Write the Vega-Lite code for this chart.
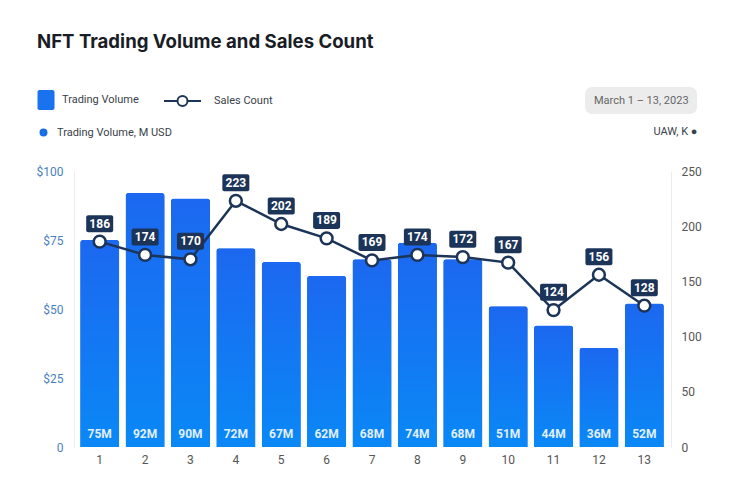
{
  "$schema": "https://vega.github.io/schema/vega-lite/v6.json",
  "description": "NFT trading volume (bars) and sales count (line), March 1-13, 2023.",
  "autosize": "none",
  "width": 590,
  "height": 276,
  "padding": {"left": 77, "top": 171, "right": 73, "bottom": 53},
  "background": "white",
  "title": {
    "text": "NFT Trading Volume and Sales Count",
    "anchor": "start",
    "frame": "group",
    "dx": -40,
    "dy": -26,
    "font": "Inter",
    "fontSize": 18.6,
    "fontWeight": 700,
    "color": "#1a1d26"
  },
  "config": {
    "view": {"stroke": null},
    "font": "Roboto",
    "legend": {"padding": 0, "labelFont": "Roboto", "labelFontSize": 11, "labelColor": "#3a3f4a"}
  },
  "data": {
    "values": [
      {"day": 1, "vol": 75, "label": "75M", "count": 186},
      {"day": 2, "vol": 92, "label": "92M", "count": 174},
      {"day": 3, "vol": 90, "label": "90M", "count": 170},
      {"day": 4, "vol": 72, "label": "72M", "count": 223},
      {"day": 5, "vol": 67, "label": "67M", "count": 202},
      {"day": 6, "vol": 62, "label": "62M", "count": 189},
      {"day": 7, "vol": 68, "label": "68M", "count": 169},
      {"day": 8, "vol": 74, "label": "74M", "count": 174},
      {"day": 9, "vol": 68, "label": "68M", "count": 172},
      {"day": 10, "vol": 51, "label": "51M", "count": 167},
      {"day": 11, "vol": 44, "label": "44M", "count": 124},
      {"day": 12, "vol": 36, "label": "36M", "count": 156},
      {"day": 13, "vol": 52, "label": "52M", "count": 128}
    ]
  },
  "encoding": {
    "x": {
      "field": "day",
      "type": "ordinal",
      "scale": {"paddingInner": 0.14, "paddingOuter": 0.07},
      "axis": {
        "title": null,
        "labelAngle": 0,
        "ticks": false,
        "domain": false,
        "labelColor": "#555555",
        "labelFontSize": 12,
        "labelPadding": 7
      }
    }
  },
  "layer": [
    {
      "encoding": {
        "y": {
          "field": "vol",
          "type": "quantitative",
          "scale": {"domain": [0, 100]},
          "axis": {
            "title": null,
            "values": [0, 25, 50, 75, 100],
            "labelExpr": "datum.value == 0 ? '0' : '$' + datum.value",
            "labelColor": "#4a7fc0",
            "labelFontSize": 12,
            "ticks": false,
            "grid": false,
            "domainColor": "#ececec",
            "offset": 3,
            "labelPadding": 11
          }
        }
      },
      "layer": [
        {
          "mark": {"type": "bar", "cornerRadiusTopLeft": 3, "cornerRadiusTopRight": 3},
          "encoding": {
            "fill": {
              "datum": "Trading Volume",
              "type": "nominal",
              "scale": {"range": ["#1b72ee"]},
              "legend": {
                "orient": "none",
                "legendX": -41,
                "legendY": -81,
                "title": null,
                "symbolType": "M-0.65,-1H0.65A0.2,0.2 0 0 1 0.85,-0.8V0.8A0.2,0.2 0 0 1 0.65,1H-0.65A0.2,0.2 0 0 1 -0.85,0.8V-0.8A0.2,0.2 0 0 1 -0.65,-1Z",
                "symbolSize": 400,
                "symbolStrokeWidth": 0,
                "labelOffset": 6
              }
            }
          }
        },
        {
          "mark": {
            "type": "bar",
            "cornerRadiusTopLeft": 3,
            "cornerRadiusTopRight": 3,
            "strokeWidth": 0,
            "fill": {
              "gradient": "linear",
              "x1": 0, "y1": 0, "x2": 0, "y2": 1,
              "stops": [
                {"offset": 0, "color": "#1c68f0"},
                {"offset": 1, "color": "#0a88f6"}
              ]
            }
          },
          "encoding": {
            "stroke": {
              "datum": "Trading Volume, M USD",
              "type": "nominal",
              "scale": {"range": ["#1b6be4"]},
              "legend": {
                "orient": "none",
                "legendX": -39,
                "legendY": -44,
                "title": null,
                "symbolType": "circle",
                "symbolSize": 30,
                "symbolStrokeWidth": 2.5,
                "symbolFillColor": "#1b6be4",
                "labelOffset": 8
              }
            }
          }
        },
        {
          "mark": {
            "type": "text",
            "baseline": "bottom",
            "dy": -6,
            "color": "white",
            "opacity": 0.88,
            "fontWeight": "bold",
            "fontSize": 12
          },
          "encoding": {
            "y": {"datum": 0, "type": "quantitative"},
            "text": {"field": "label"}
          }
        }
      ]
    },
    {
      "encoding": {
        "y": {
          "field": "count",
          "type": "quantitative",
          "scale": {"domain": [0, 250]},
          "axis": {
            "orient": "right",
            "values": [0, 50, 100, 150, 200, 250],
            "labelColor": "#555555",
            "labelFontSize": 12,
            "ticks": false,
            "grid": false,
            "domainColor": "#ececec",
            "offset": 4,
            "labelPadding": 10,
            "title": "UAW, K ●",
            "titleAngle": 0,
            "titleAlign": "right",
            "titleBaseline": "middle",
            "titleX": 26,
            "titleY": -40,
            "titleFontSize": 11,
            "titleFontWeight": "normal",
            "titleColor": "#3a3f4a"
          }
        }
      },
      "layer": [
        {
          "mark": {"type": "line", "strokeWidth": 2.5},
          "encoding": {
            "stroke": {
              "datum": "Sales Count",
              "type": "nominal",
              "scale": {"range": ["#1c3458"]},
              "legend": {
                "orient": "none",
                "legendX": 86,
                "legendY": -89.5,
                "title": null,
                "symbolType": "M-1,0H-0.27M0.27,0H1M0.27,0A0.27,0.27 0 1 1 -0.27,0A0.27,0.27 0 1 1 0.27,0",
                "symbolSize": 1369,
                "symbolStrokeWidth": 2,
                "symbolFillColor": "white",
                "labelOffset": 12
              }
            }
          }
        },
        {
          "mark": {
            "type": "point",
            "filled": true,
            "fill": "white",
            "stroke": "#1c3458",
            "strokeWidth": 2.5,
            "size": 140,
            "opacity": 1
          },
          "encoding": {
            "shape": {
              "datum": "March 1 – 13, 2023",
              "type": "nominal",
              "scale": {"range": ["circle"]},
              "legend": {
                "orient": "none",
                "legendX": 508,
                "legendY": -84,
                "title": null,
                "symbolSize": 0,
                "symbolOpacity": 0,
                "symbolStrokeWidth": 0,
                "labelOffset": -10,
                "labelColor": "#666666",
                "fillColor": "#ececec",
                "cornerRadius": 7,
                "padding": 8
              }
            }
          }
        },
        {
          "mark": {
            "type": "point",
            "shape": "M-0.85,-1.96H0.85A0.15,0.15 0 0 1 1,-1.81V-0.85A0.15,0.15 0 0 1 0.85,-0.7H-0.85A0.15,0.15 0 0 1 -1,-0.85V-1.81A0.15,0.15 0 0 1 -0.85,-1.96Z",
            "filled": true,
            "color": "#1c3458",
            "size": 729,
            "opacity": 1
          }
        },
        {
          "mark": {
            "type": "text",
            "dy": -18,
            "baseline": "middle",
            "color": "white",
            "fontWeight": "bold",
            "fontSize": 12
          },
          "encoding": {"text": {"field": "count"}}
        }
      ]
    }
  ],
  "resolve": {
    "scale": {"y": "independent", "stroke": "independent"},
    "legend": {"stroke": "independent"}
  }
}
